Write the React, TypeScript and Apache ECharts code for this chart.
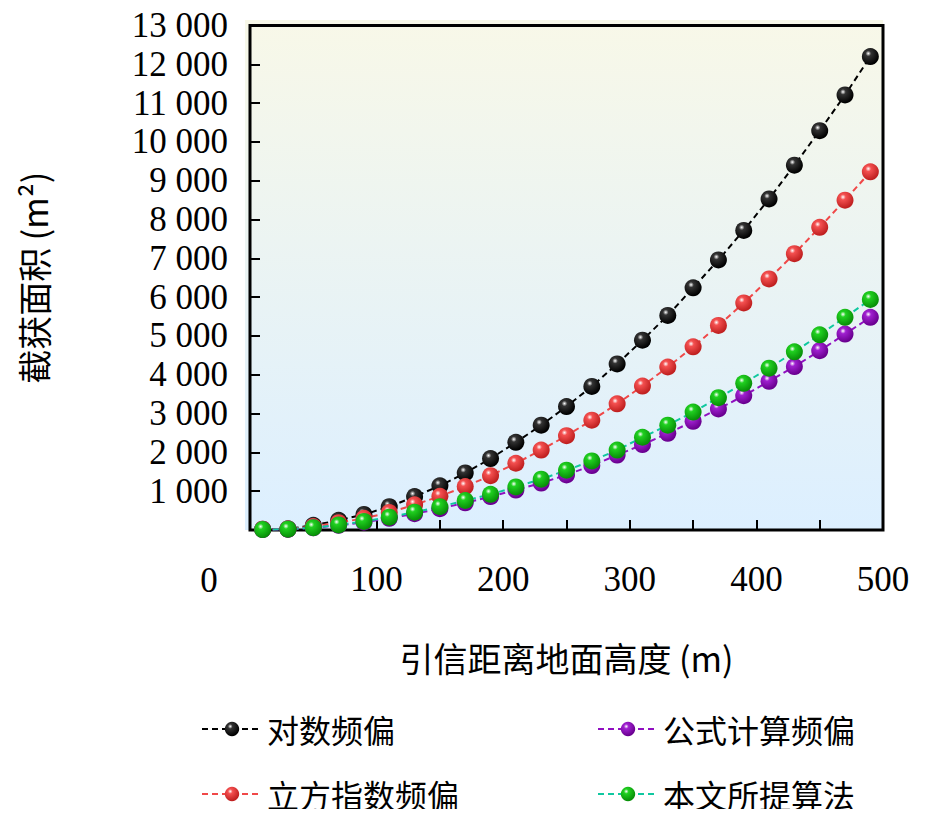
import * as echarts from "echarts";
import { useEffect, useRef } from "react";

const heights = [10, 30, 50, 70, 90, 110, 130, 150, 170, 190, 210, 230, 250, 270, 290, 310, 330, 350, 370, 390, 410, 430, 450, 470, 490];
const logFreq = [20, 30, 120, 250, 400, 600, 860, 1140, 1470, 1840, 2260, 2700, 3180, 3700, 4280, 4890, 5530, 6240, 6960, 7720, 8530, 9400, 10290, 11210, 12200];
const cubeFreq = [20, 25, 90, 190, 300, 450, 650, 870, 1120, 1400, 1720, 2060, 2430, 2830, 3250, 3710, 4200, 4720, 5270, 5850, 6470, 7120, 7800, 8500, 9230];
const formulaFreq = [10, 18, 55, 120, 200, 300, 420, 550, 700, 860, 1030, 1210, 1420, 1660, 1930, 2200, 2490, 2800, 3120, 3460, 3830, 4210, 4620, 5050, 5480];
const proposed = [10, 20, 60, 130, 220, 330, 460, 600, 760, 920, 1110, 1310, 1540, 1780, 2060, 2390, 2700, 3040, 3410, 3780, 4170, 4590, 5030, 5480, 5940];

const SERIF = '"Liberation Serif", "DejaVu Serif", serif';
const CJK = '"Noto Sans CJK SC", sans-serif';

function ball(base: string, dark: string) {
  return new echarts.graphic.RadialGradient(0.38, 0.32, 0.65, [
    { offset: 0, color: "#ffffff" },
    { offset: 0.25, color: base },
    { offset: 1, color: dark },
  ]);
}

const seriesDefs = [
  { name: "对数频偏", data: logFreq, line: "#000000", base: "#333333", dark: "#000000" },
  { name: "立方指数频偏", data: cubeFreq, line: "#f04848", base: "#f45050", dark: "#c02020" },
  { name: "公式计算频偏", data: formulaFreq, line: "#9010c0", base: "#a020d0", dark: "#6a0090" },
  { name: "本文所提算法", data: proposed, line: "#10c8a0", base: "#20d020", dark: "#089008" },
];

// legend slot positions (container coords)
const legendPos = [
  [188, 700],
  [188, 765],
  [584, 700],
  [584, 765],
];

export default function App() {
  const ref = useRef<HTMLDivElement>(null);
  useEffect(() => {
    const el = ref.current;
    if (!el) return;
    const chart = echarts.init(el, null, { renderer: "svg" });
    const legendText = { fontFamily: CJK, fontSize: 32, color: "#000" };
    chart.setOption({
      animation: false,
      graphic: [
        {
          type: "rect",
          z: -10,
          shape: { x: 237, y: 12, width: 638, height: 510 },
          style: {
            fill: new echarts.graphic.LinearGradient(0, 0, 0, 1, [
              { offset: 0, color: "#f8f8e8" },
              { offset: 1, color: "#dcefff" },
            ]),
          },
        },
        { type: "text", x: 201, y: 572, style: { text: "0", font: `35px ${SERIF}`, fill: "#000", align: "center", verticalAlign: "middle" } },
      ],
      grid: { left: 237, right: 54, top: 12, bottom: 279, show: true, borderColor: "#000", borderWidth: 3, backgroundColor: "transparent" },
      legend: seriesDefs.map((s, i) => ({
        data: [s.name],
        left: legendPos[i][0],
        top: legendPos[i][1],
        itemWidth: 60,
        itemHeight: 18,
        itemGap: 8,
        textStyle: legendText,
      })),
      xAxis: {
        type: "value",
        min: 0,
        max: 500,
        interval: 50,
        name: "引信距离地面高度 (m)",
        nameLocation: "middle",
        nameGap: 110,
        nameTextStyle: { fontFamily: CJK, fontSize: 34, color: "#000" },
        axisLine: { show: false },
        axisTick: { inside: true, length: 10, lineStyle: { color: "#000", width: 2 } },
        splitLine: { show: false },
        axisLabel: {
          margin: 32,
          fontFamily: SERIF,
          fontSize: 35,
          color: "#000",
          formatter: (v: number) => (v % 100 === 0 && v > 0 ? String(v) : ""),
        },
      },
      yAxis: {
        type: "value",
        min: 0,
        max: 13000,
        interval: 1000,
        name: "截获面积 (m²)",
        nameLocation: "middle",
        nameGap: 200,
        nameTextStyle: { fontFamily: CJK, fontSize: 34, color: "#000" },
        axisLine: { show: false },
        axisTick: { inside: true, length: 10, lineStyle: { color: "#000", width: 2 } },
        splitLine: { show: false },
        axisLabel: {
          margin: 22,
          fontFamily: SERIF,
          fontSize: 35,
          color: "#000",
          formatter: (v: number) => (v === 0 ? "" : v >= 10000 ? `${Math.floor(v / 1000)} 000` : `${v / 1000} 000`),
        },
      },
      series: seriesDefs.map((s) => ({
        name: s.name,
        type: "line",
        data: heights.map((h, i) => [h, s.data[i]]),
        symbol: "circle",
        symbolSize: 17,
        lineStyle: { color: s.line, width: 2, type: [6, 4] },
        itemStyle: { color: ball(s.base, s.dark), borderWidth: 0 },
        clip: false,
      })),
    });
    return () => chart.dispose();
  }, []);
  return <div ref={ref} style={{ width: 929, height: 801 }} />;
}
